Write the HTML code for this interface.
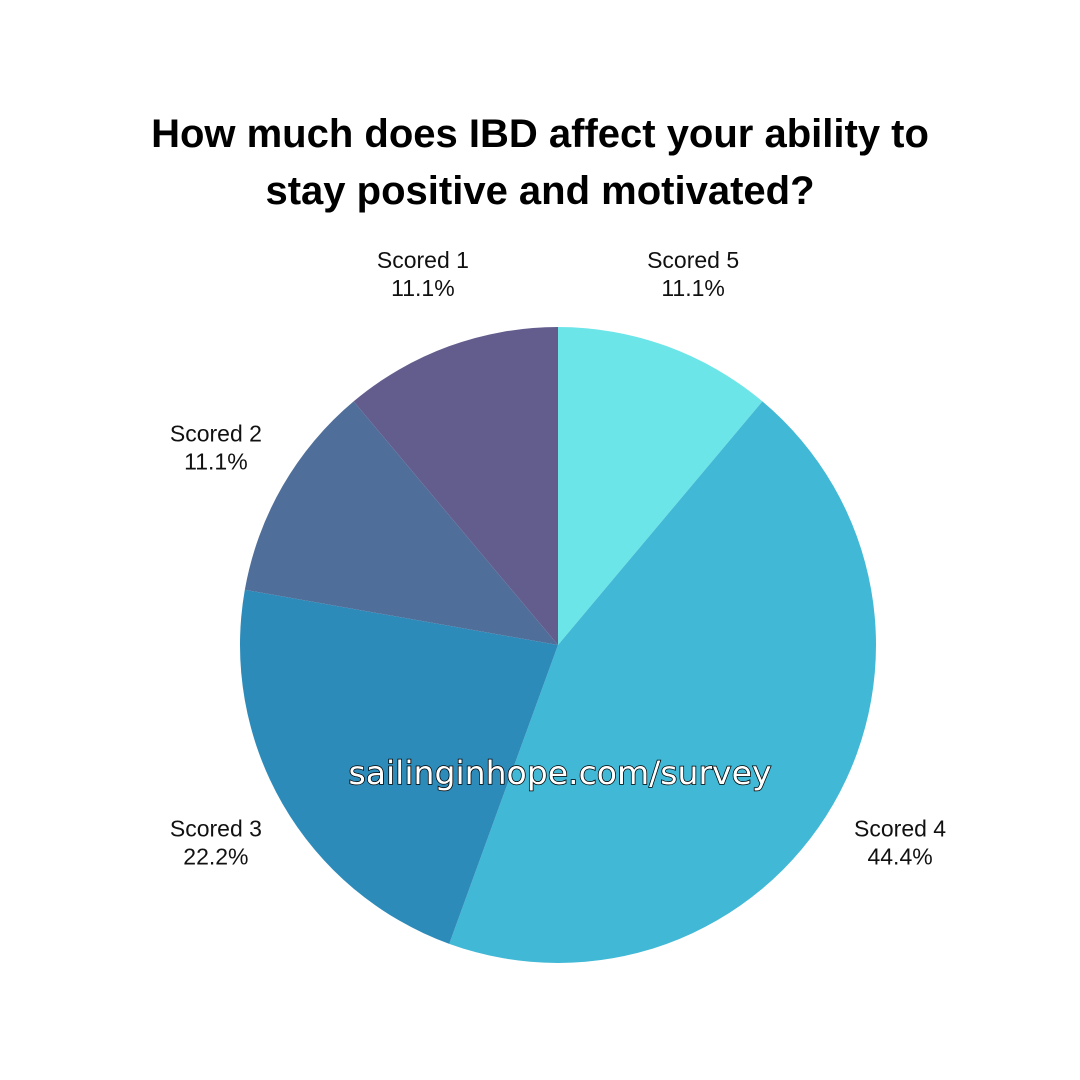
<!DOCTYPE html>
<html><head><meta charset="utf-8"><style>
body{margin:0;width:1080px;height:1080px;background:#fff;overflow:hidden}
svg{display:block}
</style></head><body>
<svg width="1080" height="1080" viewBox="0 0 1080 1080">
<text x="540" y="147" text-anchor="middle" font-family="Liberation Sans, sans-serif" font-weight="bold" font-size="40" fill="#000">How much does IBD affect your ability to</text>
<text x="540" y="204" text-anchor="middle" font-family="Liberation Sans, sans-serif" font-weight="bold" font-size="40" fill="#000">stay positive and motivated?</text>
<g id="slices"></g>
<g id="labels"></g>
<text x="560" y="784" text-anchor="middle" font-family="DejaVu Sans, sans-serif" font-size="32" fill="#fff" stroke="#000" stroke-width="1.5" paint-order="stroke" textLength="423" lengthAdjust="spacingAndGlyphs">sailinginhope.com/survey</text>
</svg>
<script>
const categories=["Scored 5","Scored 4","Scored 3","Scored 2","Scored 1"];
const values=[11.1,44.4,22.2,11.1,11.1];
const colors=["#6CE5E8","#41B8D5","#2D8BBA","#506E9A","#635D8E"];
const cx=558,cy=645,r=318,lr=395;
const ns="http://www.w3.org/2000/svg";
const total=values.reduce((a,b)=>a+b,0);
const gs=document.getElementById('slices'),gl=document.getElementById('labels');
let a0=0;
values.forEach((v,i)=>{
  const a1=a0+v/total*2*Math.PI;
  const p=a=>[cx+r*Math.sin(a),cy-r*Math.cos(a)];
  const [x0,y0]=p(a0),[x1,y1]=p(a1);
  const path=document.createElementNS(ns,'path');
  path.setAttribute('d',`M${cx},${cy}L${x0},${y0}A${r},${r} 0 ${a1-a0>Math.PI?1:0} 1 ${x1},${y1}Z`);
  path.setAttribute('fill',colors[i]);
  
  
  gs.appendChild(path);
  const am=(a0+a1)/2;
  const lx=cx+lr*Math.sin(am),ly=cy-lr*Math.cos(am);
  const t=document.createElementNS(ns,'text');
  
  
  t.setAttribute('x',lx);t.setAttribute('y',ly-6);
  t.setAttribute('text-anchor','middle');
  t.setAttribute('font-family','Liberation Sans, sans-serif');
  t.setAttribute('font-size','23');t.setAttribute('fill','#111');
  const s1=document.createElementNS(ns,'tspan');s1.setAttribute('x',lx);s1.textContent=categories[i];
  const s2=document.createElementNS(ns,'tspan');s2.setAttribute('x',lx);s2.setAttribute('dy','28');s2.textContent=v.toFixed(1)+'%';
  t.appendChild(s1);t.appendChild(s2);gl.appendChild(t);
  a0=a1;
});
</script>
</body></html>
